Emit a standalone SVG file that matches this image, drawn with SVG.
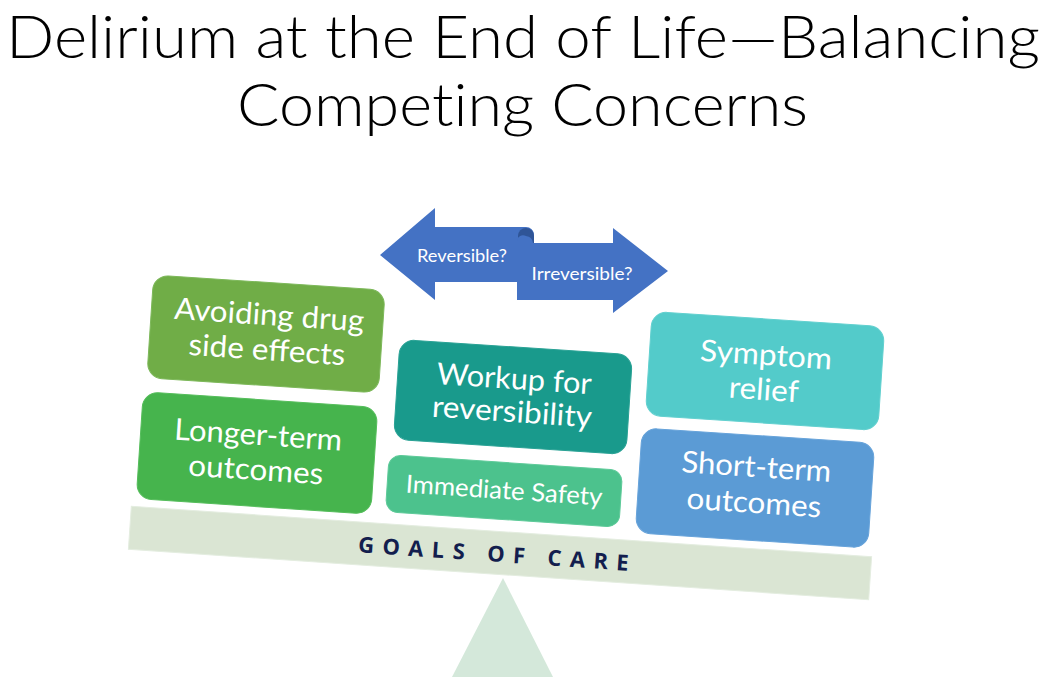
<svg xmlns="http://www.w3.org/2000/svg" width="1050" height="688" viewBox="0 0 1050 688">
<style>
.title{font-family:Lato,"Liberation Sans",sans-serif;font-weight:300;font-size:60px;fill:#000;font-variant-ligatures:none}
.bt{font-family:Lato,"Liberation Sans",sans-serif;font-size:30px;fill:#fff;text-anchor:middle}
.st{font-family:Lato,"Liberation Sans",sans-serif;font-size:25px;fill:#fff;text-anchor:middle}
.at{font-family:Lato,"Liberation Sans",sans-serif;font-size:17px;fill:#fff;text-anchor:middle}
.goal{font-family:"Open Sans","Liberation Sans",sans-serif;font-weight:bold;font-size:22px;fill:#131E4E;text-anchor:middle}
.box{stroke-width:1}
</style>
<rect width="1050" height="688" fill="#fff"/>
<g id="title">
<text class="title" x="6" y="58" textLength="1034" lengthAdjust="spacingAndGlyphs">Delirium at the End of Life—Balancing</text>
<text class="title" x="237" y="126" textLength="571" lengthAdjust="spacingAndGlyphs">Competing Concerns</text>
</g>
<g id="fulcrum">
<polygon points="503,578 452,677 553,677" fill="#D4E8DA"/>
</g>
<g id="beam" transform="translate(500,553) rotate(3.9)">
<rect x="-371" y="-21.5" width="742" height="43" fill="#DAE5D3" stroke="#E4EDE0"/>
<text class="goal" x="-2" y="9" textLength="280" lengthAdjust="spacing" letter-spacing="9">GOALS OF CARE</text>
</g>
<g id="node-avoiding" transform="translate(266,334) rotate(3.8)">
<rect class="box" x="-116" y="-51.5" width="232" height="103" rx="15" fill="#70AD47" stroke="#7DB85A"/>
<text class="bt" x="2" y="-9" textLength="190" lengthAdjust="spacingAndGlyphs">Avoiding drug</text>
<text class="bt" x="2" y="26" textLength="157" lengthAdjust="spacingAndGlyphs">side effects</text>
</g>
<g id="node-longer" transform="translate(257,453) rotate(3.8)">
<rect class="box" x="-117.5" y="-53.5" width="235" height="107" rx="15" fill="#46B44D" stroke="#55BD5B"/>
<text class="bt" x="0" y="-8" textLength="168" lengthAdjust="spacingAndGlyphs">Longer-term</text>
<text class="bt" x="0" y="27" textLength="135" lengthAdjust="spacingAndGlyphs">outcomes</text>
</g>
<g id="node-workup" transform="translate(513,397) rotate(3.8)">
<rect class="box" x="-116.5" y="-50" width="233" height="100" rx="15" fill="#199A8C" stroke="#2AA295"/>
<text class="bt" x="0" y="-8" textLength="155" lengthAdjust="spacingAndGlyphs">Workup for</text>
<text class="bt" x="0" y="25" textLength="160" lengthAdjust="spacingAndGlyphs">reversibility</text>
</g>
<g id="node-safety" transform="translate(504,491) rotate(3.8)">
<rect class="box" x="-117" y="-28.5" width="234" height="57" rx="12" fill="#4CC28D" stroke="#5ECA99"/>
<text class="st" x="0" y="8" textLength="197" lengthAdjust="spacingAndGlyphs">Immediate Safety</text>
</g>
<g id="node-symptom" transform="translate(765,371) rotate(3.8)">
<rect class="box" x="-116.5" y="-52" width="233" height="104" rx="15" fill="#53CBCA" stroke="#62D0CF"/>
<text class="bt" x="0" y="-6" textLength="132" lengthAdjust="spacingAndGlyphs">Symptom</text>
<text class="bt" x="0" y="29" textLength="70" lengthAdjust="spacingAndGlyphs">relief</text>
</g>
<g id="node-short" transform="translate(755,488) rotate(3.8)">
<rect class="box" x="-116.5" y="-52.5" width="233" height="105" rx="15" fill="#5B9BD5" stroke="#67A3DA"/>
<text class="bt" x="0" y="-11" textLength="150" lengthAdjust="spacingAndGlyphs">Short-term</text>
<text class="bt" x="0" y="25" textLength="135" lengthAdjust="spacingAndGlyphs">outcomes</text>
</g>
<g id="node-arrows">
<path d="M380,255 L435,208 L435,227 L526,227 A8,8 0 0 1 526,243 L517,243 L517,282 L435,282 L435,300 Z" fill="#4472C4"/>
<path d="M518,243 L518,236 A8,8 0 0 1 534,236 L534,243 Z" fill="#2F5597"/>
<path d="M517,300 L517,241 A6,6 0 0 1 526,236 A8,8 0 0 1 533,243 L613,243 L613,228 L668,271 L613,313 L613,300 Z" fill="#4472C4"/>
<text class="at" x="462" y="262" textLength="90" lengthAdjust="spacingAndGlyphs">Reversible?</text>
<text class="at" x="582" y="280" textLength="101" lengthAdjust="spacingAndGlyphs">Irreversible?</text>
</g>
</svg>
